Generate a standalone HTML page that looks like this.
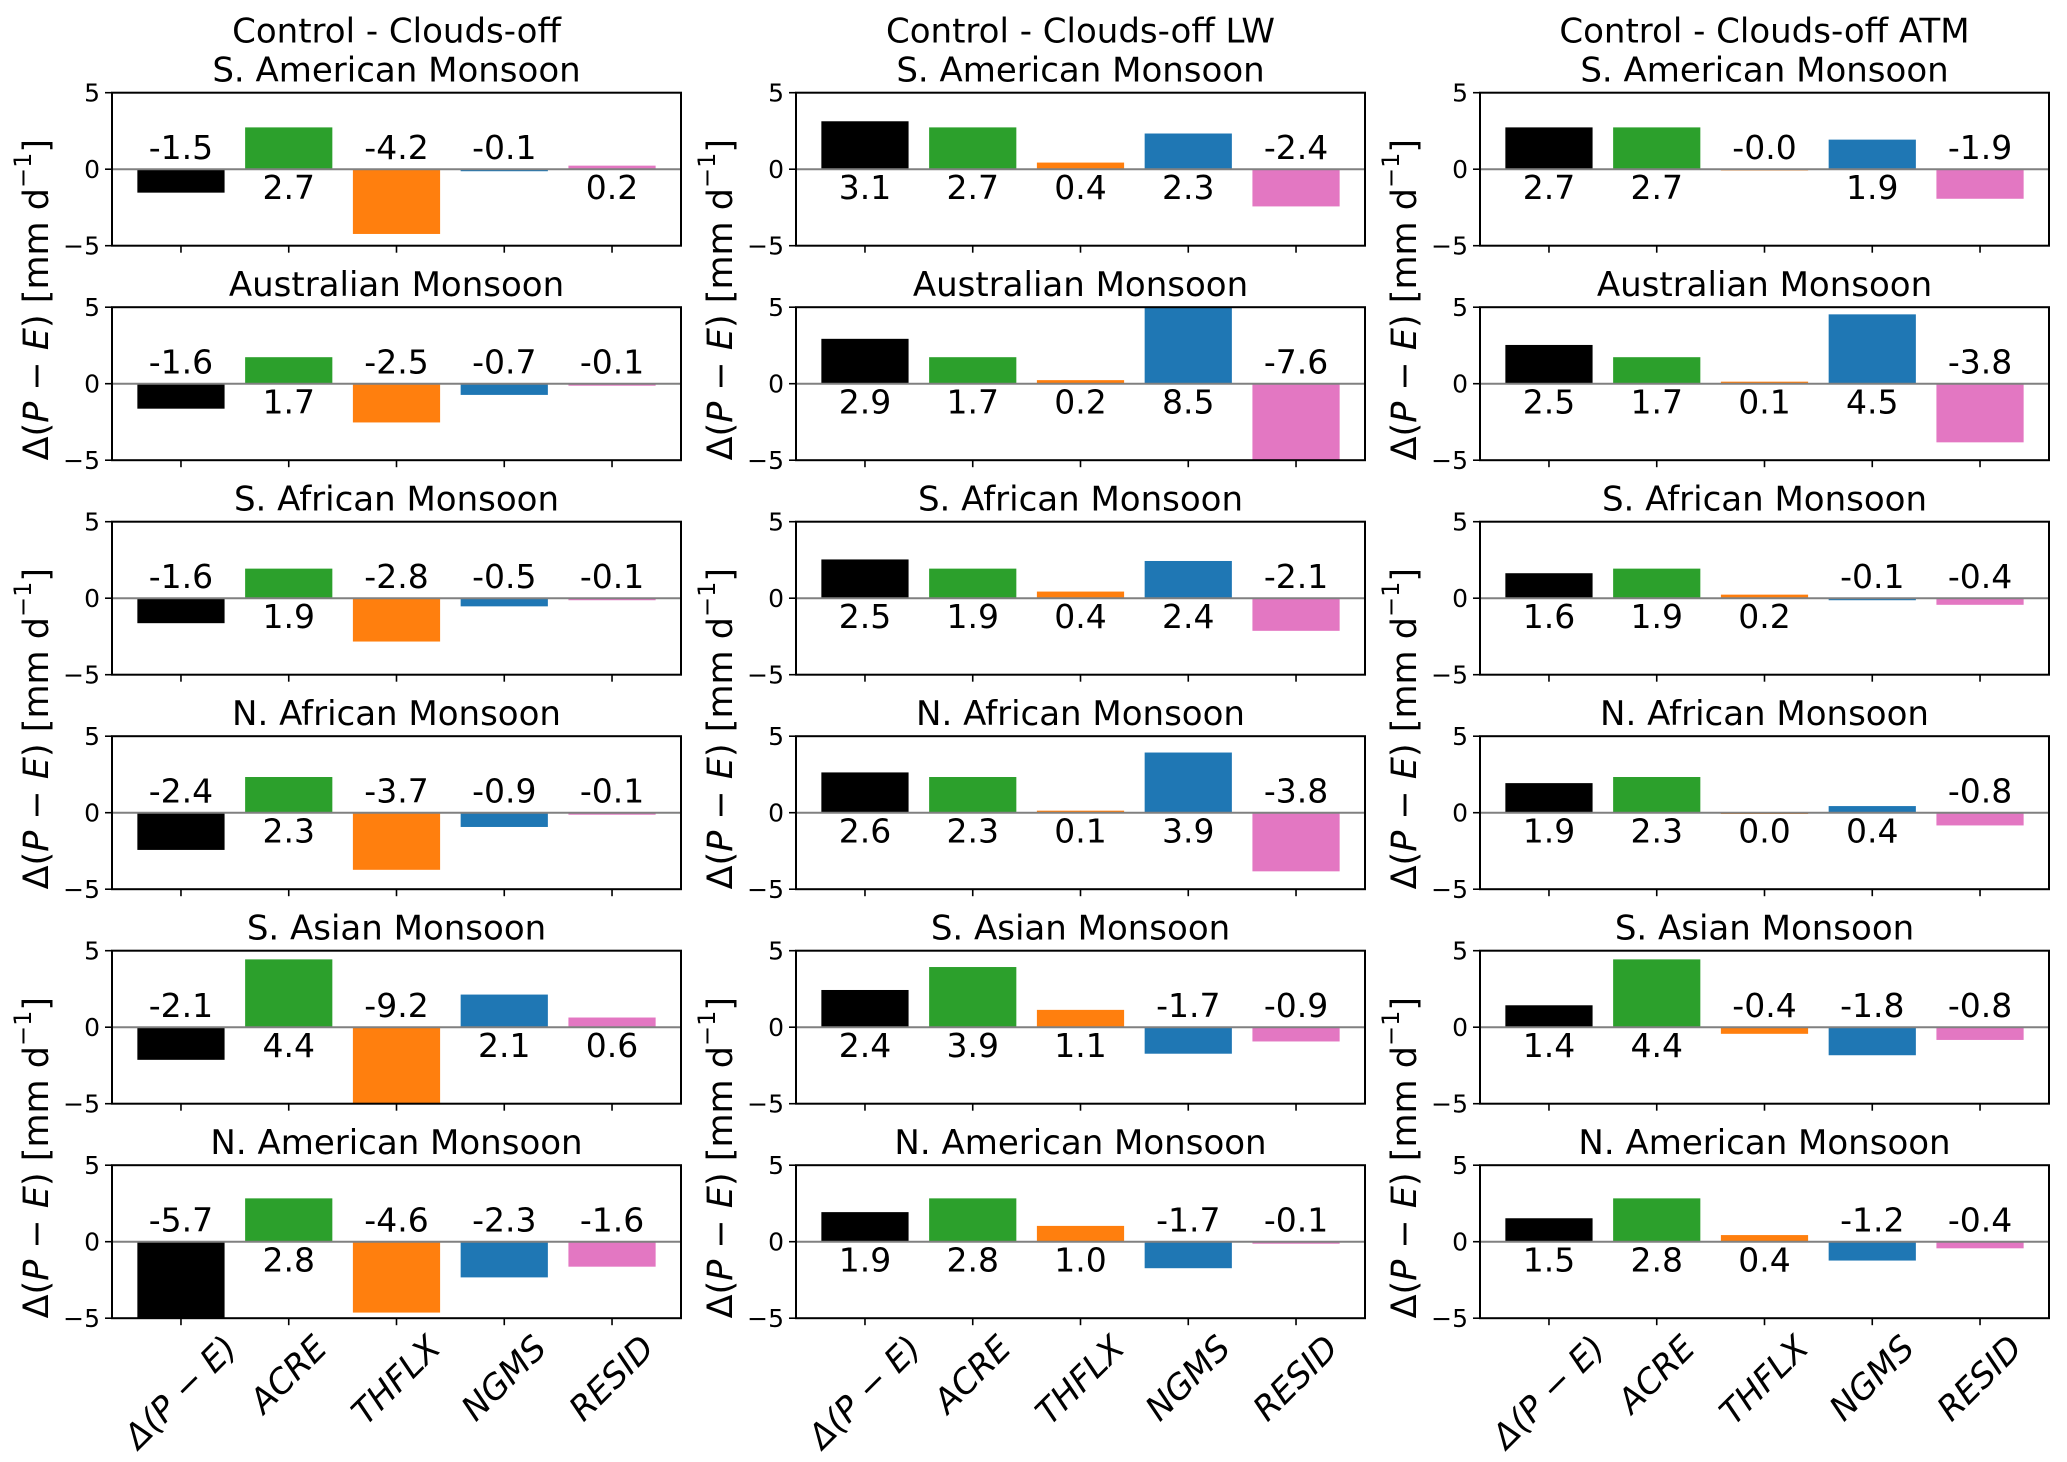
<!DOCTYPE html>
<html><head><meta charset="utf-8"><style>
html,body{margin:0;padding:0;background:#fff;}
svg{display:block;font-family:"DejaVu Sans","Liberation Sans",sans-serif;}
</style></head><body>
<svg id="chart" width="2067" height="1462" viewBox="0 0 2067 1462" xmlns="http://www.w3.org/2000/svg"></svg>
<script>
const columnTitles = ["Control - Clouds-off", "Control - Clouds-off LW", "Control - Clouds-off ATM"];
const regions = ["S. American Monsoon", "Australian Monsoon", "S. African Monsoon", "N. African Monsoon", "S. Asian Monsoon", "N. American Monsoon"];
const categories = ["Δ(P−E)", "ACRE", "THFLX", "NGMS", "RESID"];
const barColors = ["#000000", "#2ca02c", "#ff7f0e", "#1f77b4", "#e377c2"];
const yTicks = [5, 0, -5];
const yTickLabels = ["5", "0", "\u22125"];
const valuesCloudsOff = [
  [-1.5, 2.7, -4.2, -0.1, 0.2],
  [-1.6, 1.7, -2.5, -0.7, -0.1],
  [-1.6, 1.9, -2.8, -0.5, -0.1],
  [-2.4, 2.3, -3.7, -0.9, -0.1],
  [-2.1, 4.4, -9.2, 2.1, 0.6],
  [-5.7, 2.8, -4.6, -2.3, -1.6]
];
const valuesCloudsOffLW = [
  [3.1, 2.7, 0.4, 2.3, -2.4],
  [2.9, 1.7, 0.2, 8.5, -7.6],
  [2.5, 1.9, 0.4, 2.4, -2.1],
  [2.6, 2.3, 0.1, 3.9, -3.8],
  [2.4, 3.9, 1.1, -1.7, -0.9],
  [1.9, 2.8, 1.0, -1.7, -0.1]
];
const valuesCloudsOffATM = [
  [2.7, 2.7, -0.02, 1.9, -1.9],
  [2.5, 1.7, 0.1, 4.5, -3.8],
  [1.6, 1.9, 0.2, -0.1, -0.4],
  [1.9, 2.3, 0.0, 0.4, -0.8],
  [1.4, 4.4, -0.4, -1.8, -0.8],
  [1.5, 2.8, 0.4, -1.2, -0.4]
];
const allValues = [valuesCloudsOff, valuesCloudsOffLW, valuesCloudsOffATM];

const NS = "http://www.w3.org/2000/svg";
const svg = document.getElementById("chart");
const colLeft = [112, 796, 1480];
const axW = 569, axH = 153, top0 = 92.7, rowPitch = 214.5;
const xMin = -0.64, xMax = 4.64, yMin = -5, yMax = 5;

function mk(tag, attrs, parent) {
  const e = document.createElementNS(NS, tag);
  for (const k in attrs) e.setAttribute(k, attrs[k]);
  (parent || svg).appendChild(e);
  return e;
}
function addTspan(parent, text, italic, extra) {
  const t = document.createElementNS(NS, "tspan");
  t.textContent = text;
  if (italic) t.setAttribute("font-style", "italic");
  if (extra) for (const k in extra) t.setAttribute(k, extra[k]);
  parent.appendChild(t);
  return t;
}
function fillCategory(t, i) {
  if (i === 0) {
    addTspan(t, "Δ(", true); addTspan(t, "P", true); addTspan(t, " − ", false);
    addTspan(t, "E", true); addTspan(t, ")", true);
  } else addTspan(t, categories[i], true);
}

for (let c = 0; c < 3; c++) {
  for (let r = 0; r < 6; r++) {
    const L = colLeft[c], T = top0 + r * rowPitch;
    const xs = v => L + (v - xMin) / (xMax - xMin) * axW;
    const ys = v => T + (yMax - v) / (yMax - yMin) * axH;
    const g = mk("g", {});
    
    
    const cid = "clip" + c + "_" + r;
    const cp = mk("clipPath", { id: cid }, g);
    mk("rect", { x: L, y: T, width: axW, height: axH }, cp);
    const tt = mk("text", { x: L + axW / 2, y: T - 11, "text-anchor": "middle", "font-size": 34, fill: "#000" }, g);
    tt.textContent = regions[r];
    
    
    if (r === 0) {
      const ct = mk("text", { x: L + axW / 2, y: T - 50, "text-anchor": "middle", "font-size": 34, fill: "#000" }, g);
      ct.textContent = columnTitles[c];
      
      
    }
    const vals = allValues[c][r];
    const bw = 0.8;
    for (let i = 0; i < vals.length; i++) {
      const v = vals[i];
      const x0 = xs(i - bw / 2), x1 = xs(i + bw / 2);
      const y0 = ys(Math.max(v, 0)), y1 = ys(Math.min(v, 0));
      const b = mk("rect", { x: x0, y: y0, width: x1 - x0, height: Math.max(y1 - y0, 0.8), fill: barColors[i], stroke: barColors[i], "stroke-width": 1, "clip-path": "url(#" + cid + ")" }, g);
      
      
    }
    const zl = mk("line", { x1: L, x2: L + axW, y1: ys(0), y2: ys(0), stroke: "#808080", "stroke-width": 2 }, g);
    
    
    for (let i = 0; i < vals.length; i++) {
      const v = vals[i];
      const lbl = mk("text", { x: xs(i), y: v < 0 ? ys(0) - 10 : ys(0) + 30, "text-anchor": "middle", "font-size": 33, fill: "#000" }, g);
      lbl.textContent = v.toFixed(1);
      
      
    }
    const fr = mk("rect", { x: L, y: T, width: axW, height: axH, fill: "none", stroke: "#000", "stroke-width": 2 }, g);
    
    
    for (let k = 0; k < yTicks.length; k++) {
      const y = ys(yTicks[k]);
      mk("line", { x1: L - 7, x2: L, y1: y, y2: y, stroke: "#000", "stroke-width": 1.6 }, g);
      const yl = mk("text", { x: L - 12, y: y + 9, "text-anchor": "end", "font-size": 25, fill: "#000" }, g);
      yl.textContent = yTickLabels[k];
      
      
    }
    for (let i = 0; i < categories.length; i++) {
      mk("line", { x1: xs(i), x2: xs(i), y1: T + axH, y2: T + axH + 7, stroke: "#000", "stroke-width": 1.6 }, g);
    }
    if (r % 2 === 0) {
      const cx = L - 75, cy = T + 207;
      const ylab = mk("text", { x: cx, y: cy, "text-anchor": "middle", "dominant-baseline": "central", "font-size": 35, fill: "#000", transform: "rotate(-90 " + cx + " " + cy + ")" }, g);
      addTspan(ylab, "Δ("); addTspan(ylab, "P", true); addTspan(ylab, " − "); addTspan(ylab, "E", true);
      addTspan(ylab, ") [mm d"); addTspan(ylab, "−1", false, { "font-size": 24, dy: -14 }); addTspan(ylab, "]", false, { dy: 14 });
      
      
    }
    if (r === 5) {
      for (let i = 0; i < categories.length; i++) {
        const t = mk("text", { "text-anchor": "middle", "dominant-baseline": "central", "font-size": 34, fill: "#000" }, g);
        fillCategory(t, i);
        
        
        const w = t.getComputedTextLength ? t.getComputedTextLength() : 100;
        const h = 34;
        const half = (w + h) / (2 * Math.SQRT2);
        const px = xs(i), py = T + axH + 12 + half;
        t.setAttribute("x", px); t.setAttribute("y", py);
        t.setAttribute("transform", "rotate(-45 " + px + " " + py + ")");
      }
    }
  }
}
</script>
</body></html>
